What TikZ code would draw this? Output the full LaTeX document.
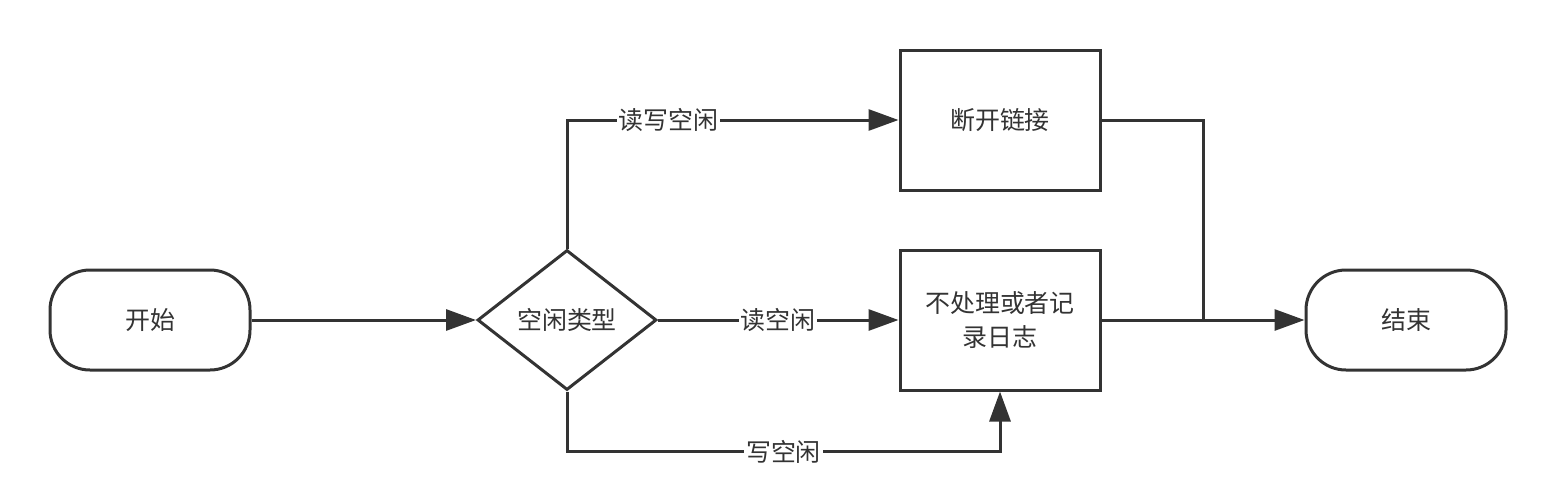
\documentclass[tikz,border=0pt]{standalone}
\usepackage{fontspec}
\setmainfont{Noto Sans CJK SC}
\usetikzlibrary{shapes.geometric,arrows.meta}
\definecolor{ink}{HTML}{333333}

\begin{document}
\begin{tikzpicture}[
        font=\fontsize{14.2pt}{19pt}\selectfont,
        every node/.style={text=ink},
        line/.style={draw=ink,line width=0.06cm},
        flow/.style={line,-{Triangle[length=0.6cm,width=0.42cm]}},
        terminal/.style={line,rounded corners=0.8cm,minimum width=4cm,minimum height=2cm},
        process/.style={line,minimum width=4cm,minimum height=2.8cm,align=center},
        decision/.style={line,diamond,inner sep=0pt,minimum width=3.58cm,minimum height=2.8cm},
        tag/.style={fill=white,inner sep=1pt}
    ]
    \useasboundingbox (0,0) rectangle (31.12,-10.04);
    \node[terminal] (start) at (3,-6.4) {开始};
    \node[decision] (kind) at (11.34,-6.4) {空闲类型};
    \node[process] (cut) at (20,-2.4) {断开链接};
    \node[process] (keep) at (20,-6.4) {不处理或者记\\录日志};
    \node[terminal] (stop) at (28.12,-6.4) {结束};
    \coordinate (join) at (24.06,-6.4);

    \draw[flow] (start) -- (kind);
    \draw[flow] (kind.north) |- node[tag,pos=0.653] {读写空闲} (cut.west);
    \draw[flow] (kind.east) -- node[tag] {读空闲} (keep.west);
    \draw[flow] (kind.south) -- ++(0,-1.2) -| node[tag,pos=0.25] {写空闲} (keep.south);
    \draw[line] (cut.east) -| (join);
    \draw[flow] (keep.east) -- (stop.west);
\end{tikzpicture}
\end{document}
